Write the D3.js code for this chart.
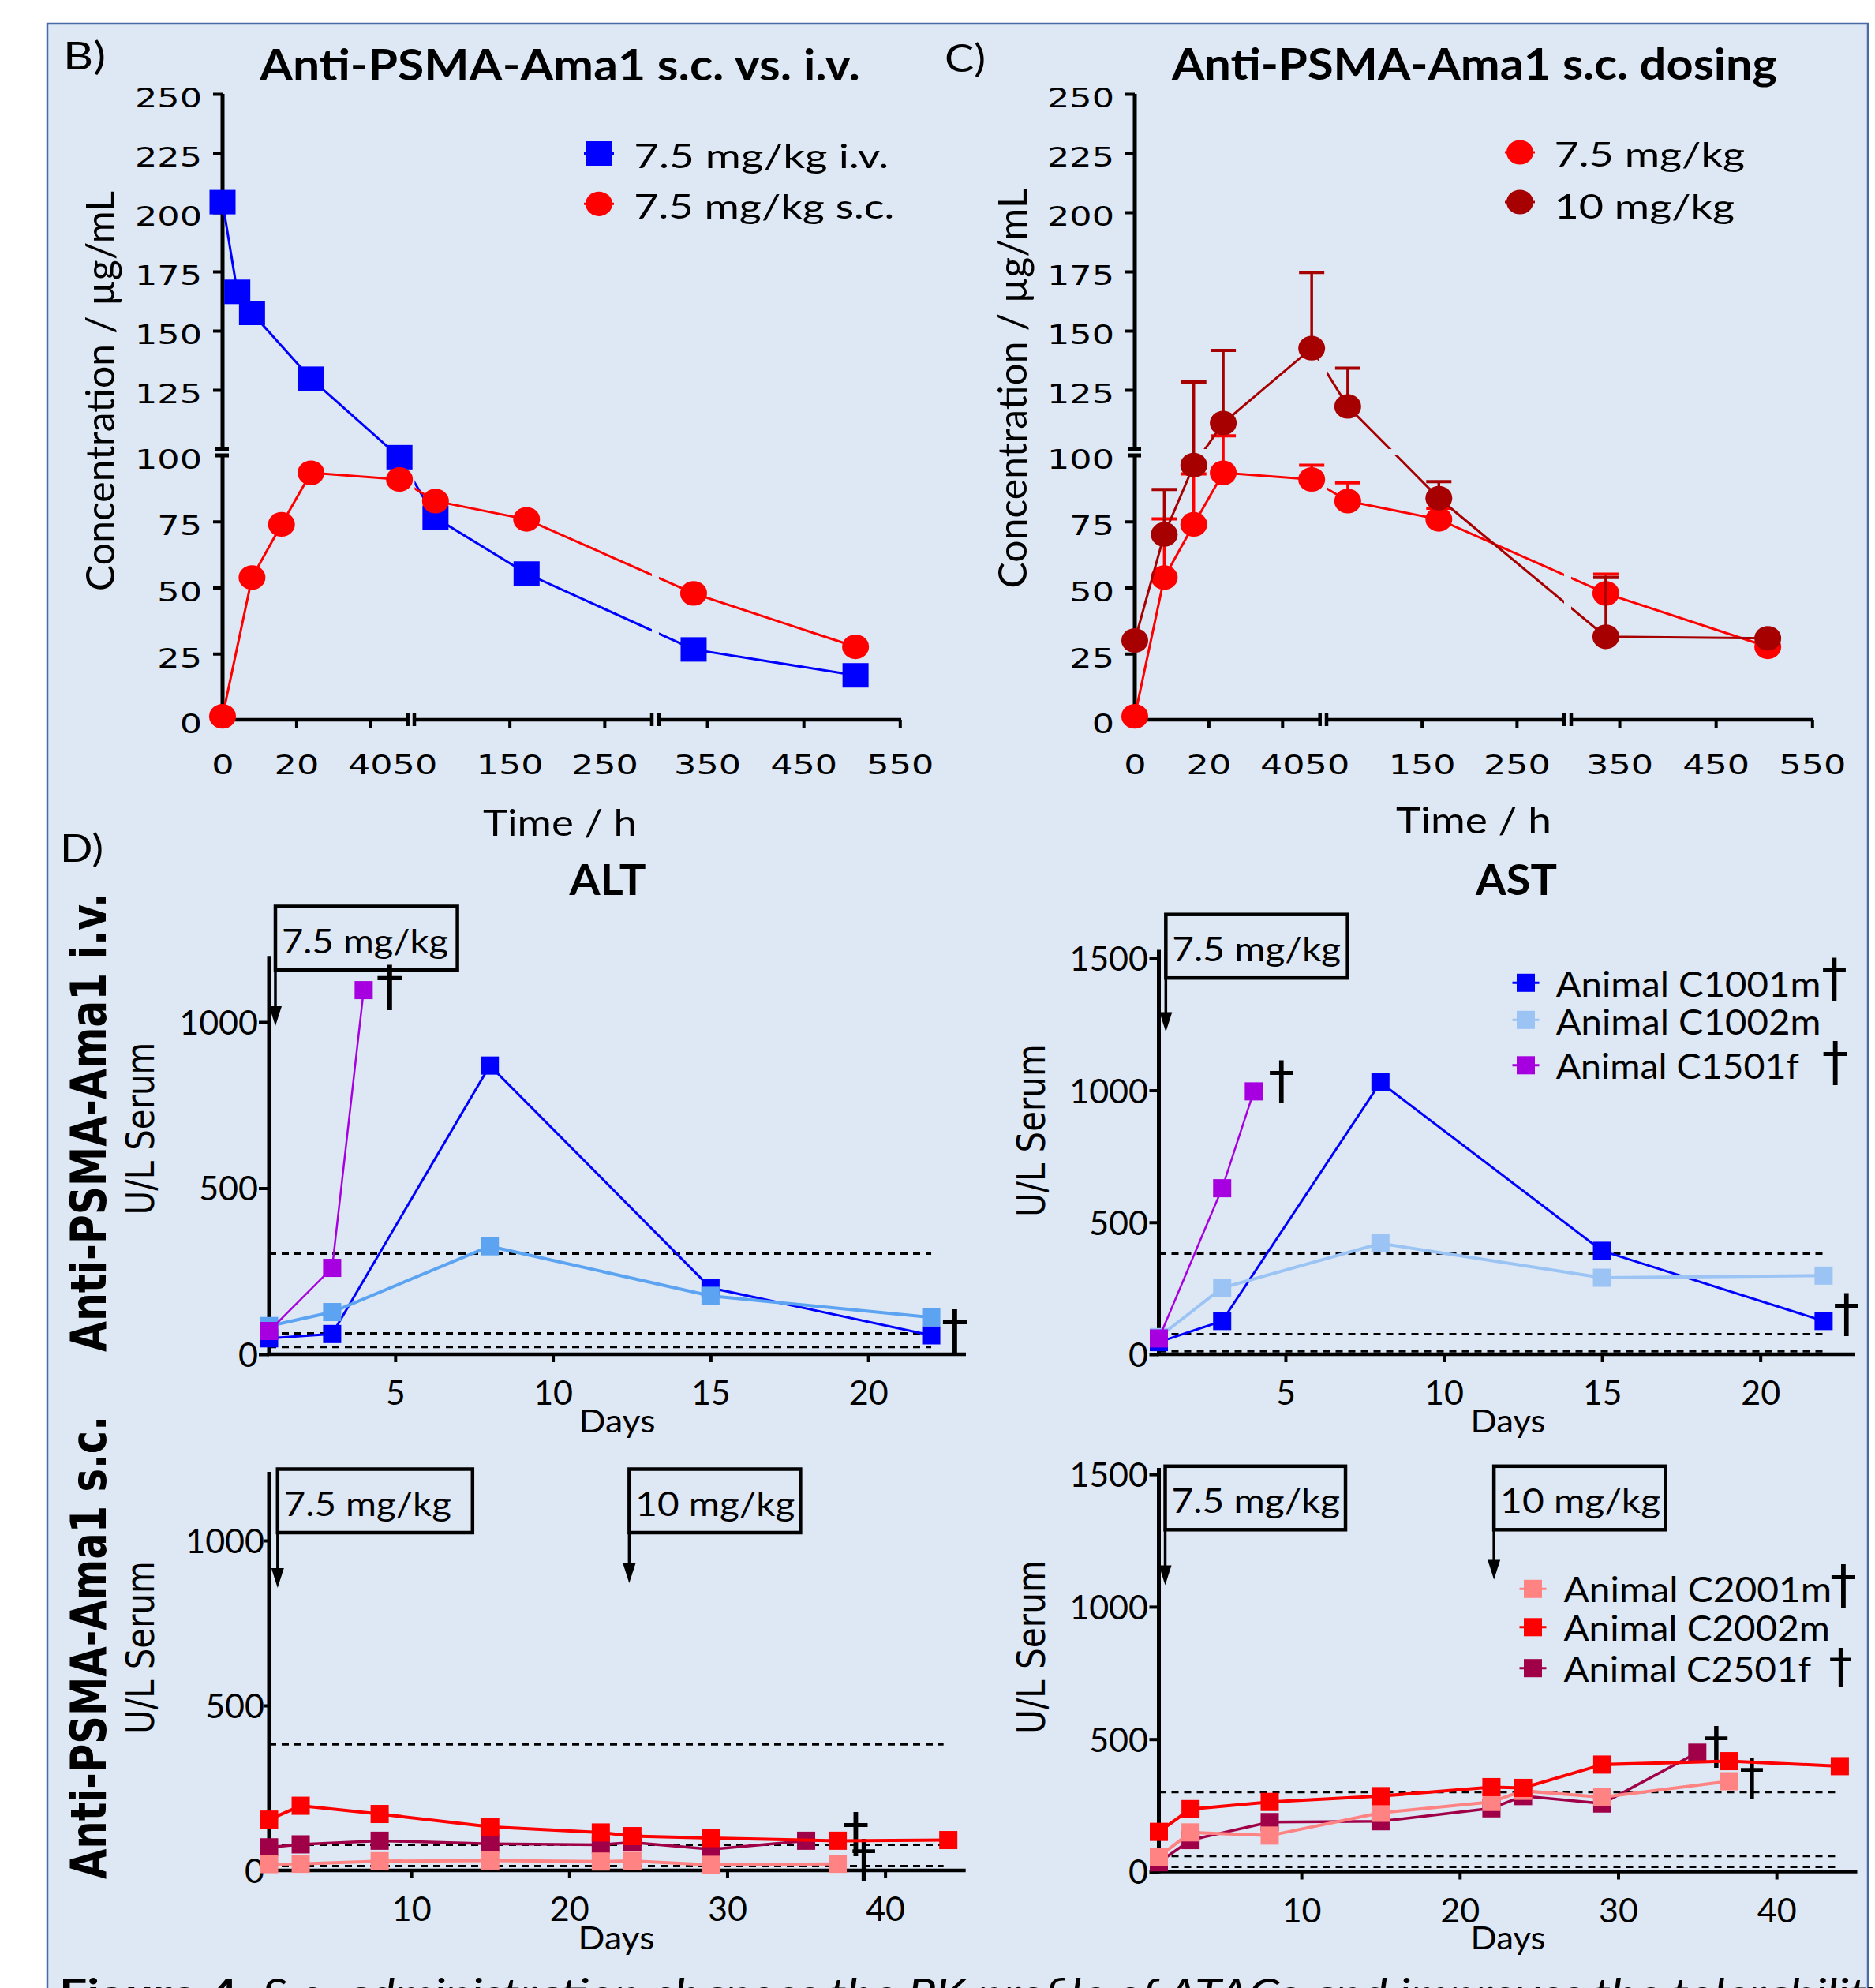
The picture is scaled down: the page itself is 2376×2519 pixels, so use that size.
<!DOCTYPE html>
<html>
<head>
<meta charset="utf-8">
<script src="https://cdn.jsdelivr.net/npm/d3@7"></script>
<style>body{margin:0;background:#fff}</style>
</head>
<body>
<div id="fig"></div>
<script>
// ---------- data ----------
// PK (hours, ug/mL)
var pkIvTimes = [0, 4, 8, 24, 48, 72, 168, 336, 504];
var pkIvConc = [204.3, 166.4, 157.5, 129.7, 99.3, 76.4, 55.3, 26.6, 16.8];
var pkScTimes = [0, 8, 16, 24, 48, 72, 168, 336, 504];
var pkScConc = [1.3, 53.8, 73.9, 93.4, 90.9, 82.7, 75.8, 47.8, 27.6];
var pkScErr = [null, 76, 93, 105.6, 96.3, 89.6, 80, 55.1, null];
var pk10Conc = [30.0, 70.1, 96.3, 111.0, 142.6, 118.0, 83.8, 31.4, 30.8];
var pk10Err = [null, 87.1, 128.3, 141.7, 174.6, 134.2, 90.1, 53.8, null];
var pkYTicksLow = [0, 25, 50, 75, 100];
var pkYTicksHigh = [125, 150, 175, 200, 225, 250];
var pkXLabels = [[0, 20, 40], [50, 150, 250], [350, 450, 550]];

// ALT / AST (days, U/L)
var ivDays = [1, 3, 8, 15, 22];
var ivDaysC1501 = [1, 3, 4];
var altC1001m = [48, 61, 869, 200, 57];
var altC1002m = [85, 127, 325, 176, 111];
var altC1501f = [70, 260, 1096];
var astC1001m = [46, 126, 1030, 392, 126];
var astC1002m = [65, 252, 420, 290, 298];
var astC1501f = [60, 629, 996];

var scDaysC2002 = [1, 3, 8, 15, 22, 24, 29, 37, 44];
var scDaysC2001 = [1, 3, 8, 15, 22, 24, 29, 37];
var scDaysC2501 = [1, 3, 8, 15, 22, 24, 29, 35];
var altC2001m = [19, 20, 28, 30, 27, 29, 17, 20];
var altC2002m = [154, 196, 171, 132, 115, 104, 98, 90, 92];
var altC2501f = [70, 79, 90, 81, 78, 85, 64, 90];
var astC2001m = [56, 148, 136, 222, 263, 305, 281, 341];
var astC2002m = [150, 236, 263, 285, 319, 316, 404, 417, 398];
var astC2501f = [35, 119, 187, 190, 239, 285, 257, 449];

var altRefIv = [303, 63, 22];
var astRefIv = [381, 76, 11];
var altRefSc = [382, 78, 13];
var astRefSc = [300, 59, 18];

var ivTicks = [5, 10, 15, 20];
var scTicks = [10, 20, 30, 40];

// colours
var cBlue = "#0000ff", cRed = "#ff0000", cDarkRed = "#a60000";
var cLightBlueAlt = "#5ca3f2", cLightBlueAst = "#9bc4f5", cPurple = "#a600e0";
var cPink = "#ff8383", cMagenta = "#a00048";

var S = 1.31; // horizontal stretch of the PK tick labels

var svg = d3.select("#fig").append("svg")
  .attr("width", 2376).attr("height", 2519)
  .style("display", "block");
svg.append("rect").attr("width", 2376).attr("height", 2519).attr("fill", "#fff");
svg.append("rect").attr("x", 60).attr("y", 30).attr("width", 2307).attr("height", 2520)
  .attr("fill", "#dde8f4").attr("stroke", "#4a6aa8").attr("stroke-width", 2.5);

function label(g, x, y, str, o) {
  var t = g.append("text").attr("x", x).attr("y", y)
    .attr("font-family", o.family || "Lato")
    .attr("font-size", o.size)
    .attr("font-weight", o.weight || "normal")
    .attr("text-anchor", o.anchor || "start")
    .attr("fill", "#000")
    .text(str);
  if (o.len) t.attr("textLength", o.len).attr("lengthAdjust", "spacingAndGlyphs");
  return t;
}
// rotated text reading upwards: x = baseline, y = centre
function vlabel(g, x, y, str, o) {
  return g.append("text")
    .attr("transform", `translate(${x},${y}) rotate(-90)`)
    .attr("font-family", o.family || "Lato")
    .attr("font-size", o.size)
    .attr("font-weight", o.weight || "normal")
    .attr("text-anchor", "middle")
    .attr("textLength", o.len).attr("lengthAdjust", "spacingAndGlyphs")
    .attr("fill", "#000")
    .text(str);
}
// dagger glyph of height h centred on (cx, cy)
function dagger(g, cx, cy, h) {
  var f = h / 0.62;
  g.append("text").attr("x", cx).attr("y", cy + 0.48 * h)
    .attr("font-family", "DejaVu Sans").attr("font-size", f)
    .attr("text-anchor", "middle").attr("fill", "#000").text("\u2020");
}

// ---------- PK panels (B, C) ----------
function drawPK(ox, series, id) {
  var g = svg.append("g").attr("transform", `translate(${ox},0)`);
  var xs = [
    d3.scaleLinear().domain([0, 50]).range([282, 515.5]),
    d3.scaleLinear().domain([50, 300]).range([525.4, 826]),
    d3.scaleLinear().domain([300, 550]).range([835, 1140.3])
  ];
  var yLo = d3.scaleLinear().domain([0, 100]).range([912, 577]);
  var yHi = d3.scaleLinear().domain([100, 250]).range([569, 119]);
  var px = t => t <= 50 ? xs[0](t) : t <= 300 ? xs[1](t) : xs[2](t);
  var py = v => v <= 100 ? yLo(v) : yHi(v);

  // clip so that lines break at the axis breaks
  var cp = g.append("clipPath").attr("id", id);
  xs.forEach(function (s, i) {
    [yLo, yHi].forEach(function (ys, j) {
      var r = s.range(), q = ys.range();
      var x0 = r[0] - (i === 0 ? 40 : 0), x1 = r[1] + (i === 2 ? 40 : 0);
      var y0 = q[1] - (j === 1 ? 40 : 0), y1 = q[0] + (j === 0 ? 40 : 0);
      cp.append("rect").attr("x", x0).attr("y", y0)
        .attr("width", x1 - x0).attr("height", y1 - y0);
    });
  });

  // x axis
  xs.forEach(function (s, i) {
    var ax = g.append("g").attr("transform", "translate(0,912)")
      .call(d3.axisBottom(s).tickValues(pkXLabels[i]).tickSize(10).tickSizeOuter(0));
    ax.select(".domain").remove();
    ax.selectAll(".tick").filter(d => d === 0 || d === 50).select("line").remove();
    ax.selectAll(".tick line").attr("stroke-width", 4);
    ax.selectAll("text").attr("font-family", "DejaVu Sans").attr("font-size", 34)
      .attr("fill", "#000").attr("y", 69).attr("dy", null)
      .attr("transform", `scale(${S},1)`);
  });
  [[279.5, 516.7], [525, 826], [835, 1142]].forEach(function (r) {
    g.append("line").attr("x1", r[0]).attr("x2", r[1]).attr("y1", 912).attr("y2", 912)
      .attr("stroke", "#000").attr("stroke-width", 4.5);
  });
  [516.7, 525, 826, 835].forEach(function (bx) {
    g.append("line").attr("x1", bx).attr("x2", bx).attr("y1", 903).attr("y2", 920)
      .attr("stroke", "#000").attr("stroke-width", 4.5);
  });

  // y axis
  [[yLo, pkYTicksLow], [yHi, pkYTicksHigh]].forEach(function (p) {
    var ax = g.append("g").attr("transform", "translate(282,0)")
      .call(d3.axisLeft(p[0]).tickValues(p[1]).tickSize(12).tickSizeOuter(0));
    ax.select(".domain").remove();
    ax.selectAll(".tick").filter(d => d === 100).select("line").remove();
    ax.selectAll(".tick line").attr("stroke-width", 4);
    ax.selectAll("text").attr("font-family", "DejaVu Sans").attr("font-size", 34)
      .attr("fill", "#000").attr("x", -26 / S).attr("y", 6)
      .attr("transform", `scale(${S},1)`);
  });
  g.append("line").attr("x1", 282).attr("x2", 282).attr("y1", 914).attr("y2", 577)
    .attr("stroke", "#000").attr("stroke-width", 5);
  g.append("line").attr("x1", 282).attr("x2", 282).attr("y1", 569).attr("y2", 119)
    .attr("stroke", "#000").attr("stroke-width", 5);
  [569.5, 577].forEach(function (by) {
    g.append("line").attr("x1", 273).attr("x2", 290).attr("y1", by).attr("y2", by)
      .attr("stroke", "#000").attr("stroke-width", 5);
  });

  var line = d3.line().x(d => px(d[0])).y(d => py(d[1]));
  series.forEach(function (s) {
    var pts = d3.zip(s.t, s.v);
    if (s.err) {
      s.t.forEach(function (t, i) {
        if (s.err[i] == null) return;
        var x = px(t);
        g.append("line").attr("x1", x).attr("x2", x)
          .attr("y1", py(s.v[i])).attr("y2", py(s.err[i]))
          .attr("stroke", s.color).attr("stroke-width", 3.5);
        g.append("line").attr("x1", x - 16).attr("x2", x + 16)
          .attr("y1", py(s.err[i])).attr("y2", py(s.err[i]))
          .attr("stroke", s.color).attr("stroke-width", 4);
      });
    }
    g.append("path").datum(pts).attr("d", line).attr("fill", "none")
      .attr("stroke", s.color).attr("stroke-width", 3)
      .attr("clip-path", `url(#${id})`);
    if (s.shape === "square") {
      g.selectAll(null).data(pts).enter().append("rect")
        .attr("x", d => px(d[0]) - 16.5).attr("y", d => py(d[1]) - 15.5)
        .attr("width", 33).attr("height", 31).attr("fill", s.color);
    } else {
      g.selectAll(null).data(pts).enter().append("ellipse")
        .attr("cx", d => px(d[0])).attr("cy", d => py(d[1]))
        .attr("rx", 17).attr("ry", 15.6).attr("fill", s.color);
    }
  });
}

function pkLegend(mx, tx, rows) {
  rows.forEach(function (r) {
    svg.append("line").attr("x1", mx - 19).attr("x2", mx + 19).attr("y1", r.y).attr("y2", r.y)
      .attr("stroke", r.color).attr("stroke-width", 3);
    if (r.shape === "square") {
      svg.append("rect").attr("x", mx - 17).attr("y", r.y - 15.5)
        .attr("width", 34).attr("height", 31).attr("fill", r.color);
    } else {
      svg.append("ellipse").attr("cx", mx).attr("cy", r.y)
        .attr("rx", 17).attr("ry", 15.6).attr("fill", r.color);
    }
    label(svg, tx, r.base, r.text, { size: 43, len: r.len });
  });
}

drawPK(0, [
  { t: pkIvTimes, v: pkIvConc, color: cBlue, shape: "square" },
  { t: pkScTimes, v: pkScConc, color: cRed, shape: "circle" }
], "clipB");
drawPK(1156, [
  { t: pkScTimes, v: pkScConc, err: pkScErr, color: cRed, shape: "circle" },
  { t: pkScTimes, v: pk10Conc, err: pk10Err, color: cDarkRed, shape: "circle" }
], "clipC");

label(svg, 80, 88, "B)", { size: 48, len: 54 });
label(svg, 1197, 91, "C)", { size: 48, len: 52 });
label(svg, 329, 102, "Anti-PSMA-Ama1 s.c. vs. i.v.", { size: 55, weight: "bold", len: 761 });
label(svg, 1485, 101, "Anti-PSMA-Ama1 s.c. dosing", { size: 55, weight: "bold", len: 767 });
vlabel(svg, 145, 495.5, "Concentration / \u00b5g/mL", { size: 51, len: 507 });
vlabel(svg, 1301, 492, "Concentration / \u00b5g/mL", { size: 51, len: 507 });
label(svg, 612, 1059, "Time / h", { size: 46, len: 195 });
label(svg, 1769, 1056, "Time / h", { size: 46, len: 197 });
pkLegend(759, 803.3, [
  { shape: "square", color: cBlue, y: 194.5, base: 213.3, text: "7.5 mg/kg i.v.", len: 323 },
  { shape: "circle", color: cRed, y: 258.3, base: 277.3, text: "7.5 mg/kg s.c.", len: 330 }
]);
pkLegend(1926, 1969.5, [
  { shape: "circle", color: cRed, y: 193, base: 210.5, text: "7.5 mg/kg", len: 241.5 },
  { shape: "circle", color: cDarkRed, y: 256, base: 277, text: "10 mg/kg", len: 228.5 }
]);

// ---------- ALT / AST panels (D) ----------
function drawLab(c) {
  var g = svg.append("g");
  var x = d3.scaleLinear().domain(c.xDomain).range(c.xRange);
  var y = d3.scaleLinear().domain([0, c.yMax]).range(c.yRange);
  var x0 = c.xRange[0], y0 = c.yRange[0];

  c.refs.forEach(function (v) {
    g.append("line").attr("x1", x0).attr("x2", x(c.refEnd))
      .attr("y1", y(v)).attr("y2", y(v))
      .attr("stroke", "#000").attr("stroke-width", 3).attr("stroke-dasharray", "9,7");
  });

  var ax = g.append("g").attr("transform", `translate(0,${y0})`)
    .call(d3.axisBottom(x).tickValues(c.xTicks).tickFormat(d3.format("d"))
      .tickSize(10).tickSizeOuter(0));
  ax.select(".domain").remove();
  ax.selectAll(".tick line").attr("stroke-width", 4);
  ax.selectAll("text").attr("font-family", "Lato").attr("font-size", 43)
    .attr("fill", "#000").attr("y", 64).attr("dy", null);

  var ay = g.append("g").attr("transform", `translate(${x0},0)`)
    .call(d3.axisLeft(y).tickValues(c.yTicks).tickFormat(d3.format("d"))
      .tickSize(c.yTick).tickSizeOuter(0));
  ay.select(".domain").remove();
  ay.selectAll(".tick line").attr("stroke-width", 4);
  ay.selectAll("text").attr("font-family", "Lato").attr("font-size", 43)
    .attr("fill", "#000").attr("x", -c.yLabGap).attr("dy", "0.36em");

  g.append("line").attr("x1", x0 - 2.5).attr("x2", x(c.xDomain[1]))
    .attr("y1", y0).attr("y2", y0).attr("stroke", "#000").attr("stroke-width", 4.5);
  g.append("line").attr("x1", x0).attr("x2", x0)
    .attr("y1", y0 + 2).attr("y2", y(c.yTop)).attr("stroke", "#000").attr("stroke-width", 5);

  var line = d3.line().x(d => x(d[0])).y(d => y(d[1]));
  c.series.forEach(function (s) {
    var pts = d3.zip(s.days, s.vals);
    g.append("path").datum(pts).attr("d", line).attr("fill", "none")
      .attr("stroke", s.color).attr("stroke-width", s.width);
    g.selectAll(null).data(pts).enter().append("rect")
      .attr("x", d => x(d[0]) - 11.5).attr("y", d => y(d[1]) - 11.5)
      .attr("width", 23).attr("height", 23).attr("fill", s.color);
    if (s.dagger) {
      var last = pts[pts.length - 1];
      dagger(g, x(last[0]) + s.dagger[0], y(last[1]) + s.dagger[1], s.dagger[2]);
    }
  });

  c.boxes.forEach(function (b) {
    var bx = x(b.day), by = b.top, bw = b.w, bh = 80.5;
    g.append("rect").attr("x", bx).attr("y", by).attr("width", bw).attr("height", bh)
      .attr("fill", "none").attr("stroke", "#000").attr("stroke-width", 4.5);
    label(g, bx + 8, by + bh - 21, b.text, { size: 42, len: b.len });
    g.append("line").attr("x1", bx).attr("x2", bx)
      .attr("y1", by + bh).attr("y2", b.tip - 20)
      .attr("stroke", "#000").attr("stroke-width", 3.5);
    g.append("path")
      .attr("d", `M${bx - 8},${b.tip - 25}L${bx + 8},${b.tip - 25}L${bx},${b.tip}Z`)
      .attr("fill", "#000");
  });

  if (c.legend) {
    var L = c.legend;
    L.rows.forEach(function (r) {
      g.append("line").attr("x1", L.mx - 17).attr("x2", L.mx + 17)
        .attr("y1", r.y).attr("y2", r.y).attr("stroke", r.color).attr("stroke-width", 3);
      g.append("rect").attr("x", L.mx - 11.5).attr("y", r.y - 11.5)
        .attr("width", 23).attr("height", 23).attr("fill", r.color);
      label(g, L.tx, r.base, r.text, { size: 45, len: r.len });
      if (r.dagger) dagger(g, r.dagger[0], r.dagger[1], r.dagger[2]);
    });
  }
}

drawLab({
  xDomain: [1, 23.1], xRange: [341, 1224], yMax: 1000, yRange: [1716, 1295], yTop: 1199,
  xTicks: ivTicks, yTicks: [0, 500, 1000], yTick: 13, yLabGap: 14,
  refs: altRefIv, refEnd: 22,
  series: [
    { days: ivDays, vals: altC1001m, color: cBlue, width: 3, dagger: [30, -4.5, 42] },
    { days: ivDays, vals: altC1002m, color: cLightBlueAlt, width: 4 },
    { days: ivDaysC1501, vals: altC1501f, color: cPurple, width: 2.5, dagger: [33, -2, 43] }
  ],
  boxes: [{ day: 1.2, top: 1148.5, w: 230.6, tip: 1300, text: "7.5 mg/kg", len: 211 }]
});
drawLab({
  xDomain: [1, 23], xRange: [1468.5, 2351], yMax: 1500, yRange: [1716, 1214.3], yTop: 1532,
  xTicks: ivTicks, yTicks: [0, 500, 1000, 1500], yTick: 12, yLabGap: 13.5,
  refs: astRefIv, refEnd: 22,
  series: [
    { days: ivDays, vals: astC1001m, color: cBlue, width: 3, dagger: [29, -6.5, 41] },
    { days: ivDays, vals: astC1002m, color: cLightBlueAst, width: 4 },
    { days: ivDaysC1501, vals: astC1501f, color: cPurple, width: 2.5, dagger: [35, -11, 41] }
  ],
  boxes: [{ day: 1.22, top: 1158.7, w: 230.3, tip: 1307.6, text: "7.5 mg/kg", len: 213.7 }],
  legend: {
    mx: 1933.5, tx: 1971.7, rows: [
      { color: cBlue, y: 1245.3, base: 1263.3, text: "Animal C1001m", len: 335.6, dagger: [2324.5, 1242.8, 40.3] },
      { color: cLightBlueAst, y: 1292.3, base: 1310.7, text: "Animal C1002m", len: 335.6 },
      { color: cPurple, y: 1349.8, base: 1366.7, text: "Animal C1501f", len: 308, dagger: [2325.7, 1348, 42] }
    ]
  }
});
drawLab({
  xDomain: [1, 45.1], xRange: [341, 1223.7], yMax: 1000, yRange: [2370, 1952], yTop: 1208,
  xTicks: scTicks, yTicks: [0, 500, 1000], yTick: 6, yLabGap: 6,
  refs: altRefSc, refEnd: 43.7,
  series: [
    { days: scDaysC2501, vals: altC2501f, color: cMagenta, width: 3.5, dagger: [63, -8, 42] },
    { days: scDaysC2001, vals: altC2001m, color: cPink, width: 4, dagger: [33, -4, 40] },
    { days: scDaysC2002, vals: altC2002m, color: cRed, width: 4 }
  ],
  boxes: [
    { day: 1.54, top: 1861.5, w: 247, tip: 2012, text: "7.5 mg/kg", len: 212 },
    { day: 23.8, top: 1861.5, w: 217, tip: 2006, text: "10 mg/kg", len: 202 }
  ]
});
drawLab({
  xDomain: [1, 45.1], xRange: [1468.5, 2353.5], yMax: 1500, yRange: [2371.5, 1868.1], yTop: 1524,
  xTicks: scTicks, yTicks: [0, 500, 1000, 1500], yTick: 12, yLabGap: 13.5,
  refs: astRefSc, refEnd: 43.7,
  series: [
    { days: scDaysC2501, vals: astC2501f, color: cMagenta, width: 3.5, dagger: [24, -6, 40] },
    { days: scDaysC2001, vals: astC2001m, color: cPink, width: 4, dagger: [29, -3, 39] },
    { days: scDaysC2002, vals: astC2002m, color: cRed, width: 4 }
  ],
  boxes: [
    { day: 1.4, top: 1857.8, w: 228.5, tip: 2008.6, text: "7.5 mg/kg", len: 213.7 },
    { day: 22.16, top: 1857.8, w: 217.5, tip: 2001.5, text: "10 mg/kg", len: 203 }
  ],
  legend: {
    mx: 1942.5, tx: 1981.5, rows: [
      { color: cPink, y: 2013.3, base: 2029.8, text: "Animal C2001m", len: 339.7, dagger: [2336, 2010.8, 42] },
      { color: cRed, y: 2061.8, base: 2079.3, text: "Animal C2002m", len: 337.5 },
      { color: cMagenta, y: 2113.7, base: 2131, text: "Animal C2501f", len: 313.5, dagger: [2332.5, 2114, 37] }
    ]
  }
});

label(svg, 76, 1092, "D)", { size: 48, len: 55 });
label(svg, 721.5, 1134, "ALT", { size: 53, weight: "bold", len: 97 });
label(svg, 1870, 1134, "AST", { size: 53, weight: "bold", len: 103 });
vlabel(svg, 134, 1422, "Anti-PSMA-Ama1 i.v.", { family: "DejaVu Sans", weight: "bold", size: 63, len: 582 });
vlabel(svg, 134, 2087.5, "Anti-PSMA-Ama1 s.c.", { family: "DejaVu Sans", weight: "bold", size: 63, len: 587 });
vlabel(svg, 195, 1430, "U/L Serum", { family: "DejaVu Sans", size: 49, len: 219 });
vlabel(svg, 1324, 1432.6, "U/L Serum", { family: "DejaVu Sans", size: 49, len: 219 });
vlabel(svg, 195, 2087.5, "U/L Serum", { family: "DejaVu Sans", size: 49, len: 219 });
vlabel(svg, 1324, 2087, "U/L Serum", { family: "DejaVu Sans", size: 49, len: 220 });
label(svg, 782, 1815, "Days", { size: 40, anchor: "middle", len: 97 });
label(svg, 1911, 1815, "Days", { size: 40, anchor: "middle", len: 95 });
label(svg, 781, 2470, "Days", { size: 40, anchor: "middle", len: 97 });
label(svg, 1911, 2470, "Days", { size: 40, anchor: "middle", len: 95 });

// caption, cut off at the bottom edge
var cap = svg.append("text").attr("x", 75).attr("y", 2546)
  .attr("font-family", "Lato").attr("font-size", 54).attr("fill", "#000")
  .attr("textLength", 2320).attr("lengthAdjust", "spacingAndGlyphs");
cap.append("tspan").attr("font-weight", "bold").text("Figure 4:");
cap.append("tspan").attr("font-style", "italic")
  .text(" S.c. administration changes the PK profile of ATACs and improves the tolerability");
</script>
</body>
</html>
